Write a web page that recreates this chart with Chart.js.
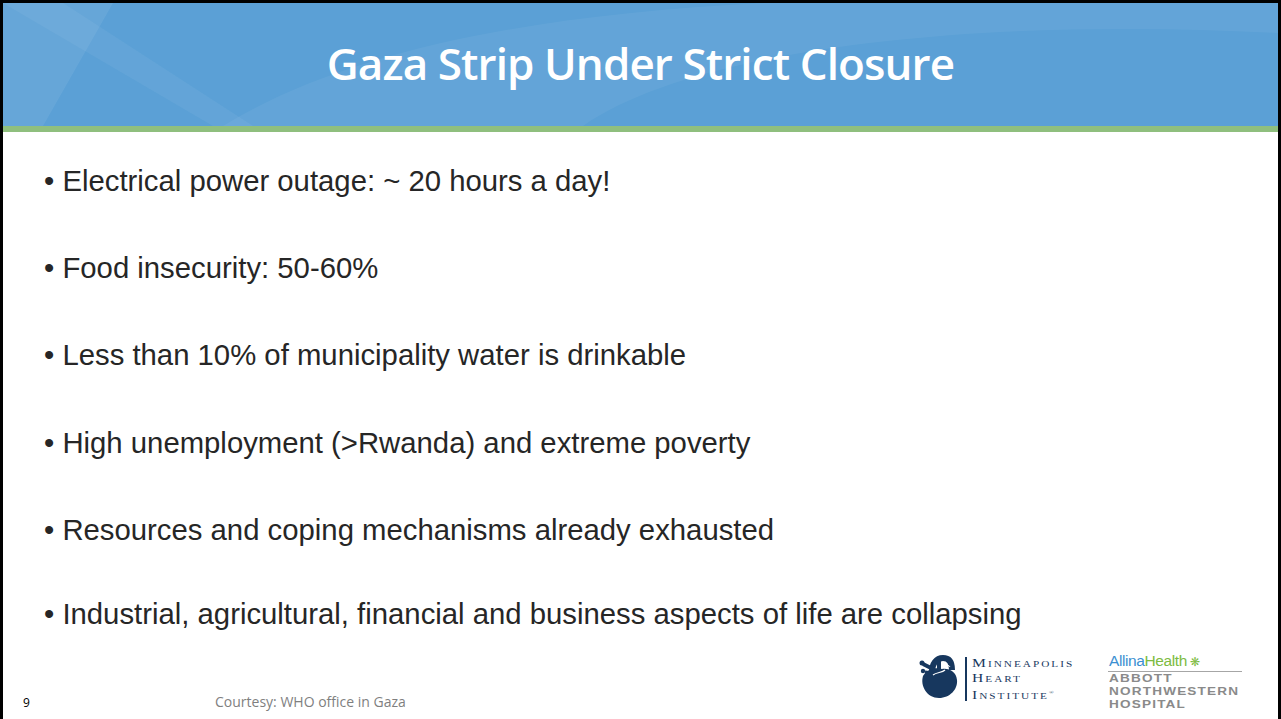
<!DOCTYPE html>
<html lang="en">
<head>
  <meta charset="UTF-8" />
  <title>Gaza Strip Under Strict Closure</title>
  <script src="https://cdn.jsdelivr.net/npm/chart.js"></script>
  <style>
    html, body {
      margin: 0;
      padding: 0;
      width: 1281px;
      height: 719px;
      overflow: hidden;
      background: #fff;
    }
    #slide {
      position: absolute;
      left: 0; top: 0;
      width: 1281px;
      height: 719px;
      background: #fff;
    }
    #frame {
      position: absolute;
      left: 0; top: 0;
      width: 1275px; height: 722px;
      border: 3px solid #000;
      pointer-events: none;
    }
    #header {
      position: absolute;
      left: 3px; top: 3px;
      width: 1275px; height: 123px;
      background: #5ba0d6;
      overflow: hidden;
    }
    #header svg { position: absolute; left: 0; top: 0; }
    #title {
      position: absolute;
      left: 3px; top: 33px;
      width: 1275px;
      text-align: center;
      color: #fff;
      font-family: 'Open Sans', sans-serif;
      font-size: 44px;
      font-weight: 600;
      letter-spacing: -0.9px;
      line-height: 60px;
    }
    #greenbar {
      position: absolute;
      left: 3px; top: 126px;
      width: 1275px; height: 6px;
      background: #8fbf7e;
    }
    .bullet {
      position: absolute;
      left: 44px;
      font-family: 'Liberation Sans', Arial, sans-serif;
      font-size: 29.3px;
      color: #262626;
      white-space: nowrap;
      line-height: 34px;
    }
    #pageNum {
      position: absolute;
      left: 23px; top: 694px;
      font-family: 'Open Sans', sans-serif;
      font-size: 12px;
      color: #000;
    }
    #courtesy {
      position: absolute;
      left: 215px; top: 692px;
      font-family: 'Open Sans', sans-serif;
      font-size: 14px;
      color: #7f7f7f;
    }
    .mhi {
      position: absolute;
      left: 972px;
      height: 14px;
      font-family: 'Liberation Serif', serif;
      font-variant: small-caps;
      font-size: 12.5px;
      line-height: 14px;
      color: #17375e;
      letter-spacing: 1.6px;
      white-space: nowrap;
      transform: scaleX(1.25);
      transform-origin: 0 0;
    }
    #mhiLine {
      position: absolute;
      left: 965px; top: 657px;
      width: 2px; height: 44px;
      background: #17375e;
    }
    #allina {
      position: absolute;
      left: 1109px; top: 653px;
      font-family: 'Liberation Sans', Arial, sans-serif;
      font-size: 15.5px;
      letter-spacing: -0.4px;
      line-height: 16px;
    }
    #allinaLine {
      position: absolute;
      left: 1108px; top: 671px;
      width: 134px; height: 1px;
      background: #a6a6a6;
    }
    .anw {
      position: absolute;
      left: 1109px;
      height: 13px;
      font-family: 'Liberation Sans', Arial, sans-serif;
      font-weight: bold;
      font-size: 11.5px;
      line-height: 13px;
      letter-spacing: 1px;
      color: #8a8a8a;
      white-space: nowrap;
      transform: scaleX(1.18);
      transform-origin: 0 0;
    }
    #chartWrap {
      position: absolute;
      left: 0; top: 0; width: 1px; height: 1px;
      overflow: hidden;
    }
  </style>
</head>
<body>
<div id="slide">
  <div id="header">
    <svg width="1275" height="123">
      <polygon points="0,0 110,0 40,123 0,123" fill="#ffffff" fill-opacity="0.07"/>
      <polygon points="0,0 60,0 250,123 210,123" fill="#ffffff" fill-opacity="0.05"/>
      <path d="M220,123 C340,50 520,12 760,0 L1275,0 L1275,30 C1000,15 700,40 580,123 Z" fill="#ffffff" fill-opacity="0.05"/>
    </svg>
  </div>
  <div id="title"></div>
  <div id="greenbar"></div>
  <div id="bullets"></div>

  <div id="pageNum"></div>
  <div id="courtesy"></div>

  <svg style="position:absolute;left:917px;top:652px" width="44" height="48" viewBox="0 0 44 48">
    <path d="M6,24 C3,34 10,46 22,46 C33,46 41,37 40,28 C39,20 33,16 25,17 C18,15 10,17 6,24 Z" fill="#17375e"/>
    <path d="M15,20 C15,12 19,6 26,6 C32,6 35,10 35,18" stroke="#17375e" stroke-width="6" fill="none"/>
    <path d="M22,18 L22,8" stroke="#17375e" stroke-width="4"/>
    <path d="M6,12 L16,17" stroke="#17375e" stroke-width="4"/>
    <path d="M8,20 L16,21" stroke="#17375e" stroke-width="3"/>
    <circle cx="5" cy="11" r="2.5" fill="#17375e"/>
    <circle cx="6" cy="19" r="2.2" fill="#17375e"/>
    <path d="M16,23 C20,20 25,21 28,18" stroke="#fff" stroke-width="1.2" fill="none"/>
    <path d="M26,16 C29,12 32,13 33,15" stroke="#fff" stroke-width="1" fill="none"/>
  </svg>
  <div id="mhiLine"></div>
  <div class="mhi" style="top:656px">Minneapolis</div>
  <div class="mhi" style="top:671px">Heart</div>
  <div class="mhi" style="top:686px">Institute<sup style="font-size:5px">®</sup></div>

  <div id="allina"><span style="color:#3b8fd1">Allina</span><span style="color:#7dbb42">Health</span><span style="color:#7dbb42;font-size:12px"> ❋</span></div>
  <div id="allinaLine"></div>
  <div class="anw" style="top:672px">ABBOTT</div>
  <div class="anw" style="top:685px">NORTHWESTERN</div>
  <div class="anw" style="top:698px">HOSPITAL</div>

  <div id="chartWrap"><canvas id="chart"></canvas></div>
  <div id="frame"></div>
</div>

<script>
  const slideTitle = "Gaza Strip Under Strict Closure";
  const bulletTexts = [
    "Electrical power outage: ~ 20 hours a day!",
    "Food insecurity: 50-60%",
    "Less than 10% of municipality water is drinkable",
    "High unemployment (>Rwanda) and extreme poverty",
    "Resources and coping mechanisms already exhausted",
    "Industrial, agricultural, financial and business aspects of life are collapsing"
  ];
  const bulletTops = [164, 251, 338, 426, 513, 597];
  const pageNumber = "9";
  const courtesyText = "Courtesy: WHO office in Gaza";

  document.getElementById("title").textContent = slideTitle;
  document.getElementById("pageNum").textContent = pageNumber;
  document.getElementById("courtesy").textContent = courtesyText;

  const list = document.getElementById("bullets");
  bulletTexts.forEach((t, i) => {
    const d = document.createElement("div");
    d.className = "bullet";
    d.style.top = bulletTops[i] + "px";
    d.textContent = "\u2022 " + t;
    list.appendChild(d);
  });

  // slide has no plotted data; keep an empty Chart.js instance so the library is in use
  new Chart(document.getElementById("chart"), {
    type: 'bar',
    data: { labels: [], datasets: [] },
    options: { responsive: false, animation: false, plugins: { legend: { display: false } } }
  });
</script>
</body>
</html>
